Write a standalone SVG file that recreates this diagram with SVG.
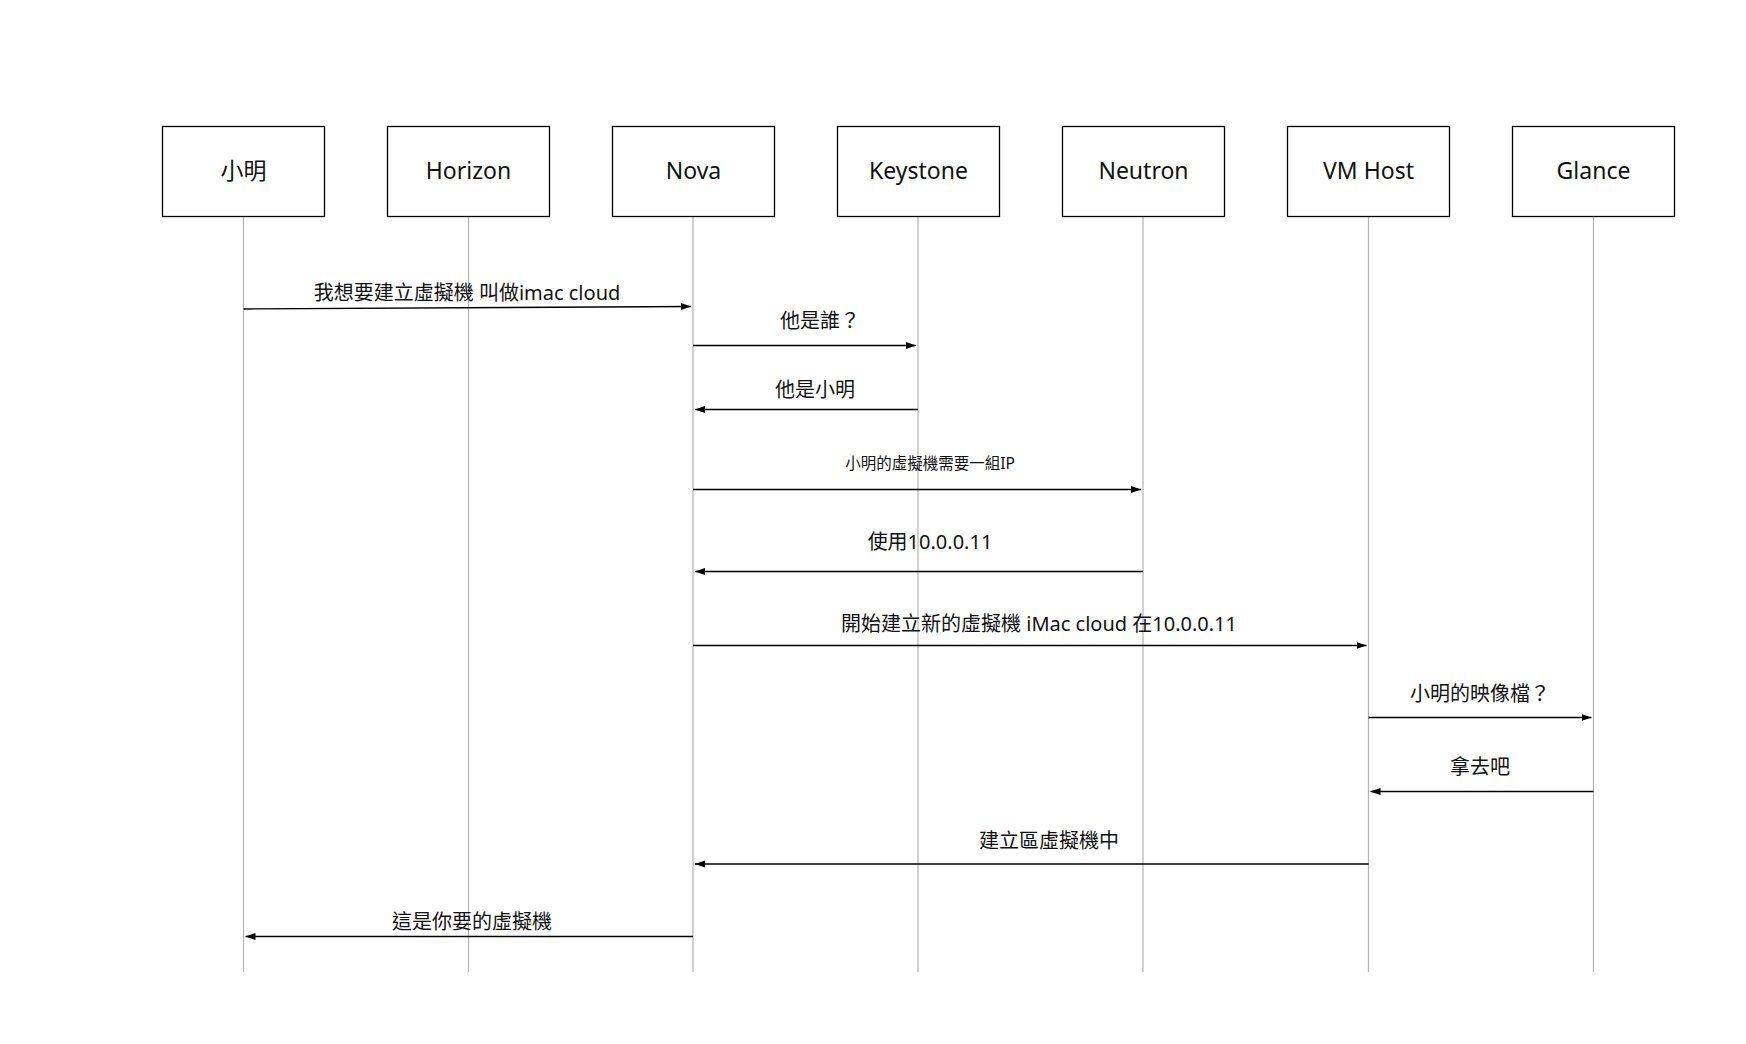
<svg xmlns="http://www.w3.org/2000/svg" width="1746" height="1044" viewBox="0 0 1746 1044">
<style>
.box{fill:#ffffff;stroke:#000000;stroke-width:1.3}
.life{stroke:#b3b3b3;stroke-width:1.2;fill:none}
.msg{stroke:#000000;stroke-width:1.3;fill:none}
.nt{font-family:"Noto Sans","Noto Sans CJK TC",sans-serif;font-size:23px;fill:#111;text-anchor:middle}
.ml{font-family:"Noto Sans","Noto Sans CJK TC",sans-serif;font-size:20px;fill:#111;text-anchor:middle}
.ms{font-family:"Noto Sans","Noto Sans CJK TC",sans-serif;font-size:15.5px;fill:#111;text-anchor:middle}
</style>
<defs>
<marker id="ah" markerUnits="userSpaceOnUse" markerWidth="10" markerHeight="8" refX="10" refY="3.5" orient="auto">
<path d="M0,0 L10,3.5 L0,7 z" fill="#000"/>
</marker>
</defs>
<rect width="1746" height="1044" fill="#ffffff"/>
<g id="lifelines">
<line class="life" x1="243.5" y1="216" x2="243.5" y2="972"/>
<line class="life" x1="468.5" y1="216" x2="468.5" y2="972"/>
<line class="life" x1="693" y1="216" x2="693" y2="972"/>
<line class="life" x1="918" y1="216" x2="918" y2="972"/>
<line class="life" x1="1143" y1="216" x2="1143" y2="972"/>
<line class="life" x1="1368.5" y1="216" x2="1368.5" y2="972"/>
<line class="life" x1="1593.5" y1="216" x2="1593.5" y2="972"/>
</g>
<g id="node-xiaoming"><rect class="box" x="162.5" y="126.5" width="162" height="90"/><text class="nt" x="243.5" y="179">小明</text></g>
<g id="node-horizon"><rect class="box" x="387.5" y="126.5" width="162" height="90"/><text class="nt" x="468.5" y="179">Horizon</text></g>
<g id="node-nova"><rect class="box" x="612.5" y="126.5" width="162" height="90"/><text class="nt" x="693.5" y="179">Nova</text></g>
<g id="node-keystone"><rect class="box" x="837.5" y="126.5" width="162" height="90"/><text class="nt" x="918.5" y="179">Keystone</text></g>
<g id="node-neutron"><rect class="box" x="1062.5" y="126.5" width="162" height="90"/><text class="nt" x="1143.5" y="179">Neutron</text></g>
<g id="node-vmhost"><rect class="box" x="1287.5" y="126.5" width="162" height="90"/><text class="nt" x="1368.5" y="179">VM Host</text></g>
<g id="node-glance"><rect class="box" x="1512.5" y="126.5" width="162" height="90"/><text class="nt" x="1593.5" y="179">Glance</text></g>
<g id="connectors">
<line class="msg" x1="243.5" y1="309" x2="691" y2="306.5" marker-end="url(#ah)"/>
<line class="msg" x1="693" y1="345.5" x2="916" y2="345.5" marker-end="url(#ah)"/>
<line class="msg" x1="918" y1="409.5" x2="695" y2="409.5" marker-end="url(#ah)"/>
<line class="msg" x1="693" y1="489.5" x2="1141" y2="489.5" marker-end="url(#ah)"/>
<line class="msg" x1="1143" y1="571.5" x2="695" y2="571.5" marker-end="url(#ah)"/>
<line class="msg" x1="693" y1="645.5" x2="1366.5" y2="645.5" marker-end="url(#ah)"/>
<line class="msg" x1="1368.5" y1="717.5" x2="1591.5" y2="717.5" marker-end="url(#ah)"/>
<line class="msg" x1="1593.5" y1="791.5" x2="1370.5" y2="791.5" marker-end="url(#ah)"/>
<line class="msg" x1="1368.5" y1="864" x2="695" y2="864" marker-end="url(#ah)"/>
<line class="msg" x1="693" y1="936.5" x2="245.5" y2="936.5" marker-end="url(#ah)"/>
<text class="ml" x="467" y="299.5">我想要建立虛擬機 叫做imac cloud</text>
<text class="ml" x="820" y="327.5">他是誰？</text>
<text class="ml" x="815" y="396.5">他是小明</text>
<text class="ms" x="930" y="469">小明的虛擬機需要一組IP</text>
<text class="ml" x="930" y="548.5">使用10.0.0.11</text>
<text class="ml" x="1039" y="630.5">開始建立新的虛擬機 iMac cloud 在10.0.0.11</text>
<text class="ml" x="1480" y="700.5">小明的映像檔？</text>
<text class="ml" x="1480" y="773.5">拿去吧</text>
<text class="ml" x="1049" y="847.5">建立區虛擬機中</text>
<text class="ml" x="472" y="929">這是你要的虛擬機</text>
</g>
</svg>
